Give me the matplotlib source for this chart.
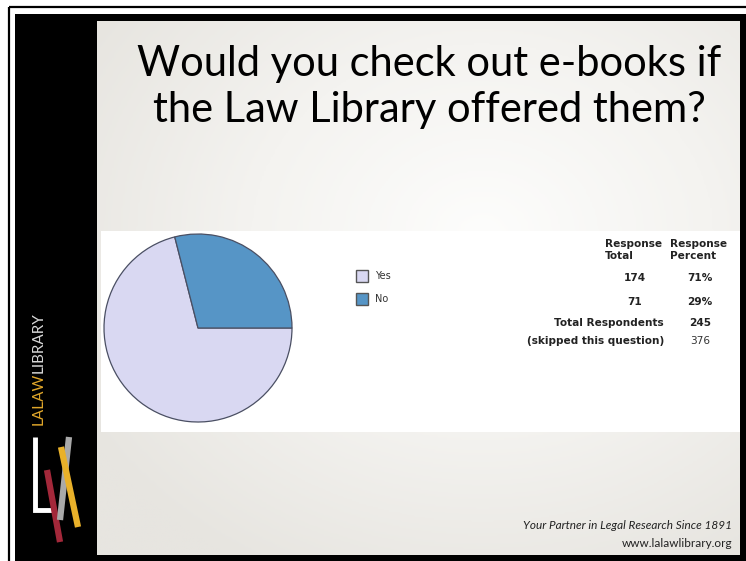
import numpy as np
import matplotlib.pyplot as plt
from matplotlib.patches import Rectangle
from matplotlib.colors import LinearSegmentedColormap

# -------------------------
# Data
# -------------------------
labels = ["Yes", "No"]
totals = [174, 71]
percents = ["71%", "29%"]
total_respondents = 245
skipped = 376
colors = ["#d9d8f2", "#5695c6"]

title_lines = ["Would you check out e-books if", "the Law Library offered them?"]

W, H = 746, 561
fig = plt.figure(figsize=(W / 100, H / 100), dpi=100)
fig.patch.set_facecolor("white")

# background axes in pixel coordinates
bg = fig.add_axes([0, 0, 1, 1])
bg.set_xlim(0, W)
bg.set_ylim(H, 0)
bg.axis("off")

# frame: thin outer line, black border
bg.add_patch(Rectangle((9, 7), W, H, fill=False, edgecolor="black", lw=1.6))
bg.add_patch(Rectangle((15, 14), W, H, facecolor="black", edgecolor="none"))

# slide with soft radial gradient
yy, xx = np.mgrid[0:1:200j, 0:1:300j]
r = np.sqrt(((xx - 0.6) / 0.9) ** 2 + ((yy - 0.4) / 0.9) ** 2)
cmap = LinearSegmentedColormap.from_list("slide", ["#fdfdfc", "#f4f3f0", "#e7e5e0"])
bg.imshow(r, cmap=cmap, extent=(97, 740, 555, 21), aspect="auto", vmin=0, vmax=0.8, zorder=1)

# white chart box
bg.add_patch(Rectangle((101, 231), 639, 201, facecolor="white", edgecolor="none", zorder=2))

# title
for i, line in enumerate(title_lines):
    bg.text(429, 76 + i * 46, line, ha="center", va="baseline", fontsize=30, family="Lato",
            color="black", zorder=3)

# sidebar brand text
t1 = bg.text(39, 425, "LALAW", rotation=90, ha="center", va="bottom", fontsize=11,
             family="Lato", color="#e0a62a", zorder=3)
fig.canvas.draw()
ext = t1.get_window_extent().transformed(bg.transData.inverted())
top = min(ext.y0, ext.y1)
bg.text(39, top, "LIBRARY", rotation=90, ha="center", va="bottom", fontsize=11,
        family="Lato", color="#d8d8d8", zorder=3)

# logo
bg.plot([35, 35, 52], [437, 510, 510], color="white", lw=3.5, solid_joinstyle="miter",
        solid_capstyle="butt", zorder=3)
bg.plot([47, 60], [470, 542], color="#a3283a", lw=4.5, solid_capstyle="butt", zorder=4)
bg.plot([69, 60], [437, 520], color="#a9a9a9", lw=4.5, solid_capstyle="butt", zorder=5)
bg.plot([61, 78], [447, 527], color="#e9b12a", lw=4.5, solid_capstyle="butt", zorder=6)

# footer
bg.text(732, 529, "Your Partner in Legal Research Since 1891", ha="right", va="baseline",
        fontsize=8.5, style="italic", family="Lato", color="#222222", zorder=3)
bg.text(732, 547, "www.lalawlibrary.org", ha="right", va="baseline",
        fontsize=8.5, family="Lato", color="#222222", zorder=3)

# -------------------------
# Pie
# -------------------------
cx, cy, rad = 198, 328, 94
lim = 1.02
ax = fig.add_axes([(cx - rad * lim) / W, 1 - (cy + rad * lim) / H,
                   2 * rad * lim / W, 2 * rad * lim / H])
ax.pie(totals, colors=colors, startangle=0, counterclock=False,
       wedgeprops=dict(edgecolor="#4a4f63", linewidth=0.9))
ax.set_xlim(-lim, lim)
ax.set_ylim(-lim, lim)
ax.set_aspect("equal")
ax.axis("off")

# legend
for i, (lab, col) in enumerate(zip(labels, colors)):
    y = 270 + i * 23
    bg.add_patch(Rectangle((356, y), 12, 12, facecolor=col, edgecolor="#555555", lw=1.0, zorder=4))
    bg.text(375, y + 6, lab, ha="left", va="center", fontsize=7, family="DejaVu Sans",
            color="#333333", zorder=4)

# response table
tk = dict(fontsize=7.6, family="DejaVu Sans", fontweight="bold", color="#222222", zorder=4)
bg.text(605, 250, "Response\nTotal", ha="left", va="center", linespacing=1.2, **tk)
bg.text(670, 250, "Response\nPercent", ha="left", va="center", linespacing=1.2, **tk)
for i, (n, p) in enumerate(zip(totals, percents)):
    y = 278 + i * 24
    bg.text(635, y, str(n), ha="center", va="center", **tk)
    bg.text(700, y, p, ha="center", va="center", **tk)
bg.text(664, 323, "Total Respondents", ha="right", va="center", **tk)
bg.text(700, 323, str(total_respondents), ha="center", va="center", **tk)
bg.text(664, 341, "(skipped this question)", ha="right", va="center", **tk)
bg.text(700, 341, str(skipped), ha="center", va="center", fontsize=7.6,
        family="DejaVu Sans", color="#333333", zorder=4)

fig.savefig("out.png", dpi=100)
